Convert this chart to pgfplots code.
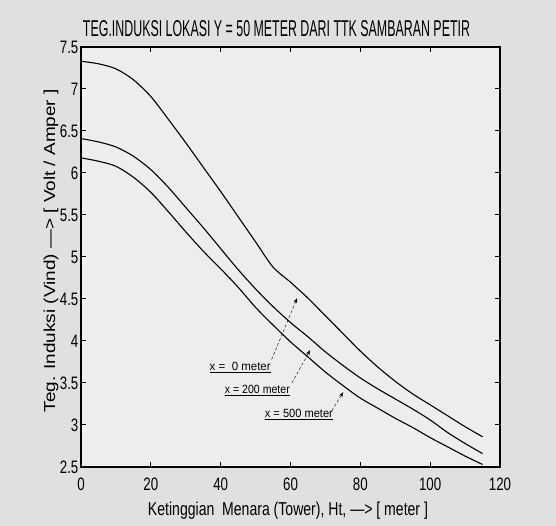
\documentclass[border=0pt]{standalone}
\usepackage{pgfplots}
\pgfplotsset{compat=1.18}
\usepackage{fontspec}
\setmainfont{Liberation Sans}
\usetikzlibrary{arrows.meta}

\begin{document}
\begin{tikzpicture}
% scanned page background
\fill[gray!24] (-81pt,-59pt) rectangle (475pt,467pt);
\begin{axis}[
  scale only axis,
  width=419pt, height=420pt,
  xmin=0, xmax=120, ymin=2.5, ymax=7.5,
  xtick={0,20,...,120},
  ytick={2.5,3,...,7.5},
  tick align=inside,
  major tick length=5pt,
  tick style={black, line width=1pt},
  axis line style={black, line width=1.2pt},
  axis background/.style={fill=white!86!gray},
  ticklabel style={font=\fontsize{18}{18}\selectfont, xscale=0.74},
  xticklabel style={yshift=-7pt},
  /pgf/number format/assume math mode=true,
  yticklabel style={/pgf/number format/.cd, fixed, precision=1},
  clip=false,
]
\addplot[black, line width=1.1pt, smooth, tension=0.5] coordinates {
  (0,7.33) (5,7.30) (10,7.24) (15,7.11) (20,6.91) (25,6.64) (30,6.36)
  (35,6.07) (40,5.78) (45,5.48) (50,5.18) (55,4.88) (60,4.70) (65,4.51)
  (70,4.30) (75,4.09) (80,3.88) (85,3.69) (90,3.52) (95,3.37) (100,3.24)
  (105,3.11) (110,2.98) (115,2.86)
};
\addplot[black, line width=1.1pt, smooth, tension=0.5] coordinates {
  (0,6.41) (5,6.37) (10,6.31) (15,6.20) (20,6.04) (25,5.83) (30,5.59)
  (35,5.35) (40,5.10) (45,4.85) (50,4.62) (55,4.41) (60,4.22) (65,4.05)
  (70,3.87) (75,3.71) (80,3.56) (85,3.43) (90,3.31) (95,3.19) (100,3.06)
  (105,2.91) (110,2.78) (115,2.66)
};
\addplot[black, line width=1.1pt, smooth, tension=0.5] coordinates {
  (0,6.18) (5,6.14) (10,6.08) (15,5.95) (20,5.77) (25,5.54) (30,5.30)
  (35,5.07) (40,4.86) (45,4.64) (50,4.40) (55,4.19) (60,3.99) (65,3.81)
  (70,3.63) (75,3.47) (80,3.32) (85,3.20) (90,3.08) (95,2.97) (100,2.85)
  (105,2.74) (110,2.63) (115,2.53)
};
% annotations
\node[anchor=base] at (axis cs:45.6,3.651) {\resizebox{61pt}{8.3pt}{\underline{x =\ \ 0 meter}}};
\node[anchor=base] at (axis cs:50.5,3.374) {\resizebox{65pt}{8.3pt}{\underline{x = 200 meter}}};
\node[anchor=base] at (axis cs:62.4,3.088) {\resizebox{68pt}{8.3pt}{\underline{x = 500 meter}}};
\draw[densely dashed, thin, -{Stealth[length=5pt]}] (axis cs:54.6,3.78) -- (axis cs:61.9,4.51);
\draw[densely dashed, thin, -{Stealth[length=5pt]}] (axis cs:60.4,3.50) -- (axis cs:65.6,3.89);
\draw[densely dashed, thin, -{Stealth[length=5pt]}] (axis cs:71.8,3.17) -- (axis cs:75.1,3.39);
% title and axis labels
\node[anchor=base] at (rel axis cs:0.4666,1.0238)
  {\resizebox{387pt}{16pt}{TEG.INDUKSI LOKASI Y = 50 METER DARI TTK SAMBARAN PETIR}};
\node[anchor=base] at (rel axis cs:0.494,-0.115)
  {\resizebox{280pt}{13.5pt}{Ketinggian\ \ Menara (Tower), Ht, ---> [ meter ]}};
\node[anchor=base, rotate=90] at (rel axis cs:-0.062,0.515)
  {\resizebox{323pt}{11.5pt}{Teg. Induksi (Vind) ---> [ Volt / Amper ]}};
\end{axis}
\end{tikzpicture}
\end{document}
